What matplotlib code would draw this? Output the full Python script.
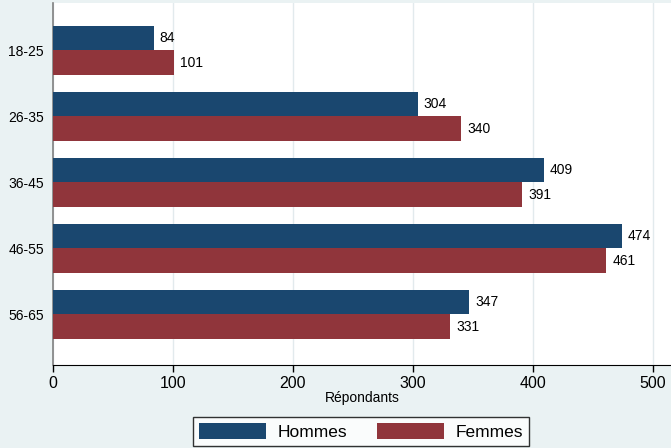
import matplotlib
matplotlib.use("Agg")
import matplotlib.pyplot as plt
import numpy as np

categories = ["18-25", "26-35", "36-45", "46-55", "56-65"]
hommes = [84, 304, 409, 474, 347]
femmes = [101, 340, 391, 461, 331]
xticks = [0, 100, 200, 300, 400, 500]
series_names = ["Hommes", "Femmes"]

navy = "#1a476f"
maroon = "#90353b"
bg = "#eaf2f3"

plt.rcParams['font.family'] = ['Liberation Sans', 'DejaVu Sans']

fig = plt.figure(figsize=(6.71, 4.48), dpi=100, facecolor=bg)
ax = fig.add_axes([53/671, 1 - 365/448, 1 - 53/671, 362/448])
ax.set_facecolor("white")

y = np.arange(len(categories))
h = 0.375
b1 = ax.barh(y - h/2, hommes, height=h, color=navy, label=series_names[0], zorder=3)
b2 = ax.barh(y + h/2, femmes, height=h, color=maroon, label=series_names[1], zorder=3)

for rect, v in zip(b1, hommes):
    ax.text(v + 5, rect.get_y() + rect.get_height()/2, str(v), va="center", ha="left", fontsize=10)
for rect, v in zip(b2, femmes):
    ax.text(v + 5, rect.get_y() + rect.get_height()/2, str(v), va="center", ha="left", fontsize=10)

ax.set_xlim(0, 515)
ax.set_ylim(4.77, -0.72)
ax.set_yticks(y)
ax.set_yticklabels(categories, fontsize=10)
ax.set_xticks(xticks)
ax.set_xticklabels([str(t) for t in xticks], fontsize=11.5)
ax.tick_params(axis="y", length=0, pad=6.5)
ax.tick_params(axis="x", length=5, width=1, color="black", pad=3)
ax.grid(axis="x", color="#e2eaed", linewidth=1, zorder=0)
ax.set_axisbelow(True)
for s in ["top", "right"]:
    ax.spines[s].set_visible(False)
ax.spines["left"].set_color("#808080")
ax.spines["left"].set_linewidth(1.2)
ax.spines["bottom"].set_color("black")
ax.set_xlabel("Répondants", fontsize=10, labelpad=0)

leg = fig.legend(handles=[b1, b2], labels=series_names, loc="upper center",
                 bbox_to_anchor=(361/671, 1 - 417/448), ncol=2, frameon=True,
                 fancybox=False, edgecolor="black", fontsize=12.5,
                 handlelength=3.85, handleheight=1.0, handletextpad=0.7,
                 columnspacing=1.7, borderpad=0.35, borderaxespad=0)
leg.get_frame().set_linewidth(1)

fig.savefig("out.png", dpi=100, facecolor=bg)
